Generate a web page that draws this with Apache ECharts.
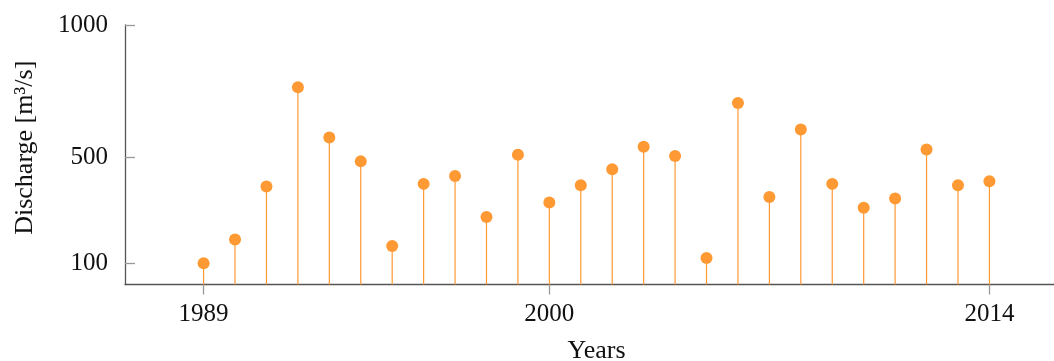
<!DOCTYPE html>
<html>
<head>
<meta charset="utf-8">
<script src="https://cdn.jsdelivr.net/npm/echarts@6/dist/echarts.min.js"></script>
<style>
  html, body { margin: 0; padding: 0; background: #ffffff; }
  #chart { width: 1054px; height: 361px; }
</style>
</head>
<body>
<div id="chart"></div>
<script>
// Annual discharge, one stem per year
const years = [1989, 1990, 1991, 1992, 1993, 1994, 1995, 1996, 1997, 1998, 1999, 2000, 2001,
               2002, 2003, 2004, 2005, 2006, 2007, 2008, 2009, 2010, 2011, 2012, 2013, 2014];
const discharge = [100, 190, 390, 765, 575, 485, 165, 400, 430, 275, 510, 330, 395,
                   455, 540, 505, 120, 705, 350, 605, 400, 310, 345, 530, 395, 410];
const xTickValues = [1989, 2000, 2014];
const yTickValues = [100, 500, 1000];

const Y_MIN = 20;
const Y_MAX = 1000;
const ORANGE = '#ff9933';
const FONT = 'Liberation Serif';

const points = years.map((y, i) => [y, discharge[i]]);

const chart = echarts.init(document.getElementById('chart'), null, { renderer: 'canvas' });

chart.setOption({
  animation: false,
  backgroundColor: '#ffffff',
  grid: { left: 125, top: 25, bottom: 76.5, right: -14, containLabel: false, outerBoundsMode: 'none' },
  xAxis: {
    type: 'value',
    min: 1986.5,
    max: 2016.5,
    name: 'Years',
    nameLocation: 'middle',
    nameGap: 54,
    nameTextStyle: { fontFamily: FONT, fontSize: 26, color: '#111' },
    splitLine: { show: false },
    axisLine: { show: true, lineStyle: { color: '#555', width: 1.3 } },
    axisTick: { show: true, length: 10, inside: false, customValues: xTickValues,
                lineStyle: { color: '#999', width: 1.3 } },
    axisLabel: { customValues: xTickValues, margin: 17, fontFamily: FONT, fontSize: 25, color: '#111',
                 formatter: v => String(v) }
  },
  yAxis: {
    type: 'value',
    min: Y_MIN,
    max: Y_MAX,
    name: 'Discharge [m³/s]',
    nameLocation: 'middle',
    nameGap: 87,
    nameRotate: 90,
    nameTextStyle: { fontFamily: FONT, fontSize: 26, color: '#111', padding: [0, 0, 0, 14] },
    splitLine: { show: false },
    axisLine: { show: true, lineStyle: { color: '#555', width: 1.3 } },
    axisTick: { show: true, length: 10, inside: true, customValues: yTickValues,
                lineStyle: { color: '#999', width: 1.3 } },
    axisLabel: { customValues: yTickValues, margin: 17, fontFamily: FONT, fontSize: 25, color: '#111',
                 formatter: v => String(v) }
  },
  series: [
    {
      // vertical stems from the axis floor up to each value
      type: 'custom',
      data: points,
      renderItem: (params, api) => {
        const x = api.value(0);
        const top = api.coord([x, api.value(1)]);
        const bottom = api.coord([x, Y_MIN]);
        return {
          type: 'line',
          shape: { x1: top[0], y1: top[1], x2: bottom[0], y2: bottom[1] },
          style: { stroke: ORANGE, lineWidth: 1.2 }
        };
      },
      z: 1
    },
    {
      type: 'scatter',
      data: points,
      symbol: 'circle',
      symbolSize: 12,
      itemStyle: { color: ORANGE, opacity: 1 },
      z: 3
    }
  ]
});
</script>
</body>
</html>
